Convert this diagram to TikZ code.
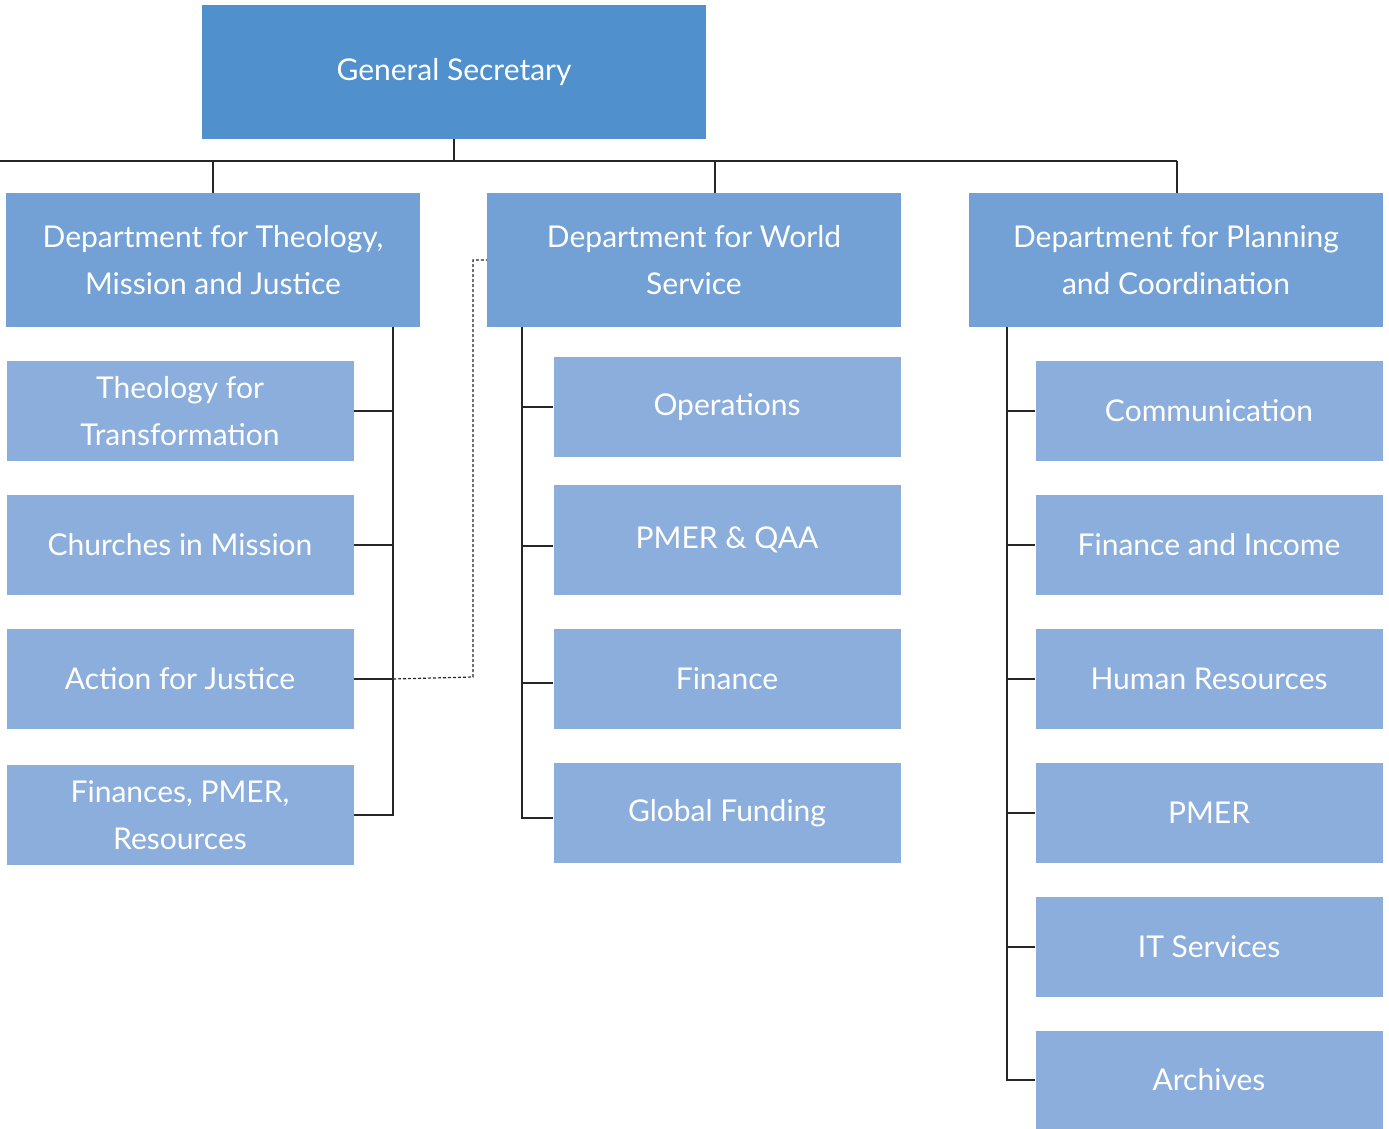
\documentclass[tikz,border=0pt]{standalone}
\usepackage{fontspec}
\setmainfont{Lato}
\definecolor{gsblue}{RGB}{79,144,205}
\definecolor{deptblue}{RGB}{115,161,213}
\definecolor{unitblue}{RGB}{139,174,220}
\begin{document}
\begin{tikzpicture}[x=1pt, y=-1pt,
        box/.style={rectangle, text=white, align=center, inner sep=0pt,
            font=\fontsize{30}{47}\selectfont},
        gsbox/.style={box, fill=gsblue, minimum width=504pt, minimum height=134pt},
        deptbox/.style={box, fill=deptblue, minimum width=414pt, minimum height=134pt},
        unitbox/.style={box, fill=unitblue, minimum width=347pt, minimum height=100pt},
        link/.style={line width=1.4pt, black!85}]
    \useasboundingbox (0,0) rectangle (1389,1129);

    \node[gsbox] (gs) at (454, 72) {General Secretary};

    \node[deptbox] (theo) at (213, 260) {Department for Theology,\\Mission and Justice};
    \node[deptbox] (world) at (694, 260) {Department for World\\Service};
    \node[deptbox] (plan) at (1176, 260) {Department for Planning\\and Coordination};

    \node[unitbox] (ttt) at (180, 411) {Theology for\\Transformation};
    \node[unitbox] (cim) at (180, 545) {Churches in Mission};
    \node[unitbox] (afj) at (180, 679) {Action for Justice};
    \node[unitbox] (fpr) at (180, 815) {Finances, PMER,\\Resources};

    \node[unitbox] (ops) at (727, 407) {Operations};
    \node[unitbox, minimum height=110pt] (qaa) at (727, 540) {PMER \& QAA};
    \node[unitbox] (fin) at (727, 679) {Finance};
    \node[unitbox] (gfu) at (727, 813) {Global Funding};

    \node[unitbox] (com) at (1209, 411) {Communication};
    \node[unitbox] (fai) at (1209, 545) {Finance and Income};
    \node[unitbox] (hrs) at (1209, 679) {Human Resources};
    \node[unitbox] (pmr) at (1209, 813) {PMER};
    \node[unitbox] (its) at (1209, 947) {IT Services};
    \node[unitbox, minimum height=98pt] (arc) at (1209, 1080) {Archives};

    % top level
    \coordinate (busL) at (0, 161);
    \coordinate (busR) at (1177, 161);
    \coordinate (wstem) at (715, 161);
    \draw[link] (busL) -- (busR);
    \draw[link] (gs.south) -- (gs.south |- busL);
    \draw[link] (theo.north) -- (theo.north |- busL);
    \draw[link] (wstem) -- (wstem |- world.north);
    \draw[link] (busR) -- (busR |- plan.north);

    % theology
    \coordinate (tspine) at (393, 327);
    \draw[link] (tspine) |- (fpr.east);
    \foreach \u in {ttt, cim, afj}
        \draw[link] (\u.east) -- (\u.east -| tspine);

    % world service
    \coordinate (wspine) at (522, 327);
    \draw[link] (wspine) |- ([yshift=-5pt]gfu.west);
    \foreach \u/\d in {ops/0, qaa/-6, fin/-4}
        \draw[link] ([yshift=\d pt]\u.west) -- ([yshift=\d pt]\u.west -| wspine);

    % planning
    \coordinate (pspine) at (1007, 327);
    \draw[link] (pspine) |- (arc.west);
    \foreach \u in {com, fai, hrs, pmr, its}
        \draw[link] (\u.west) -- (\u.west -| pspine);

    % dotted link
    \coordinate (dotc) at (473, 677);
    \draw[line width=1.2pt, black!85, dash pattern=on 3pt off 2pt] (afj.east -| tspine) -- (dotc) |- (world.west);
\end{tikzpicture}
\end{document}
